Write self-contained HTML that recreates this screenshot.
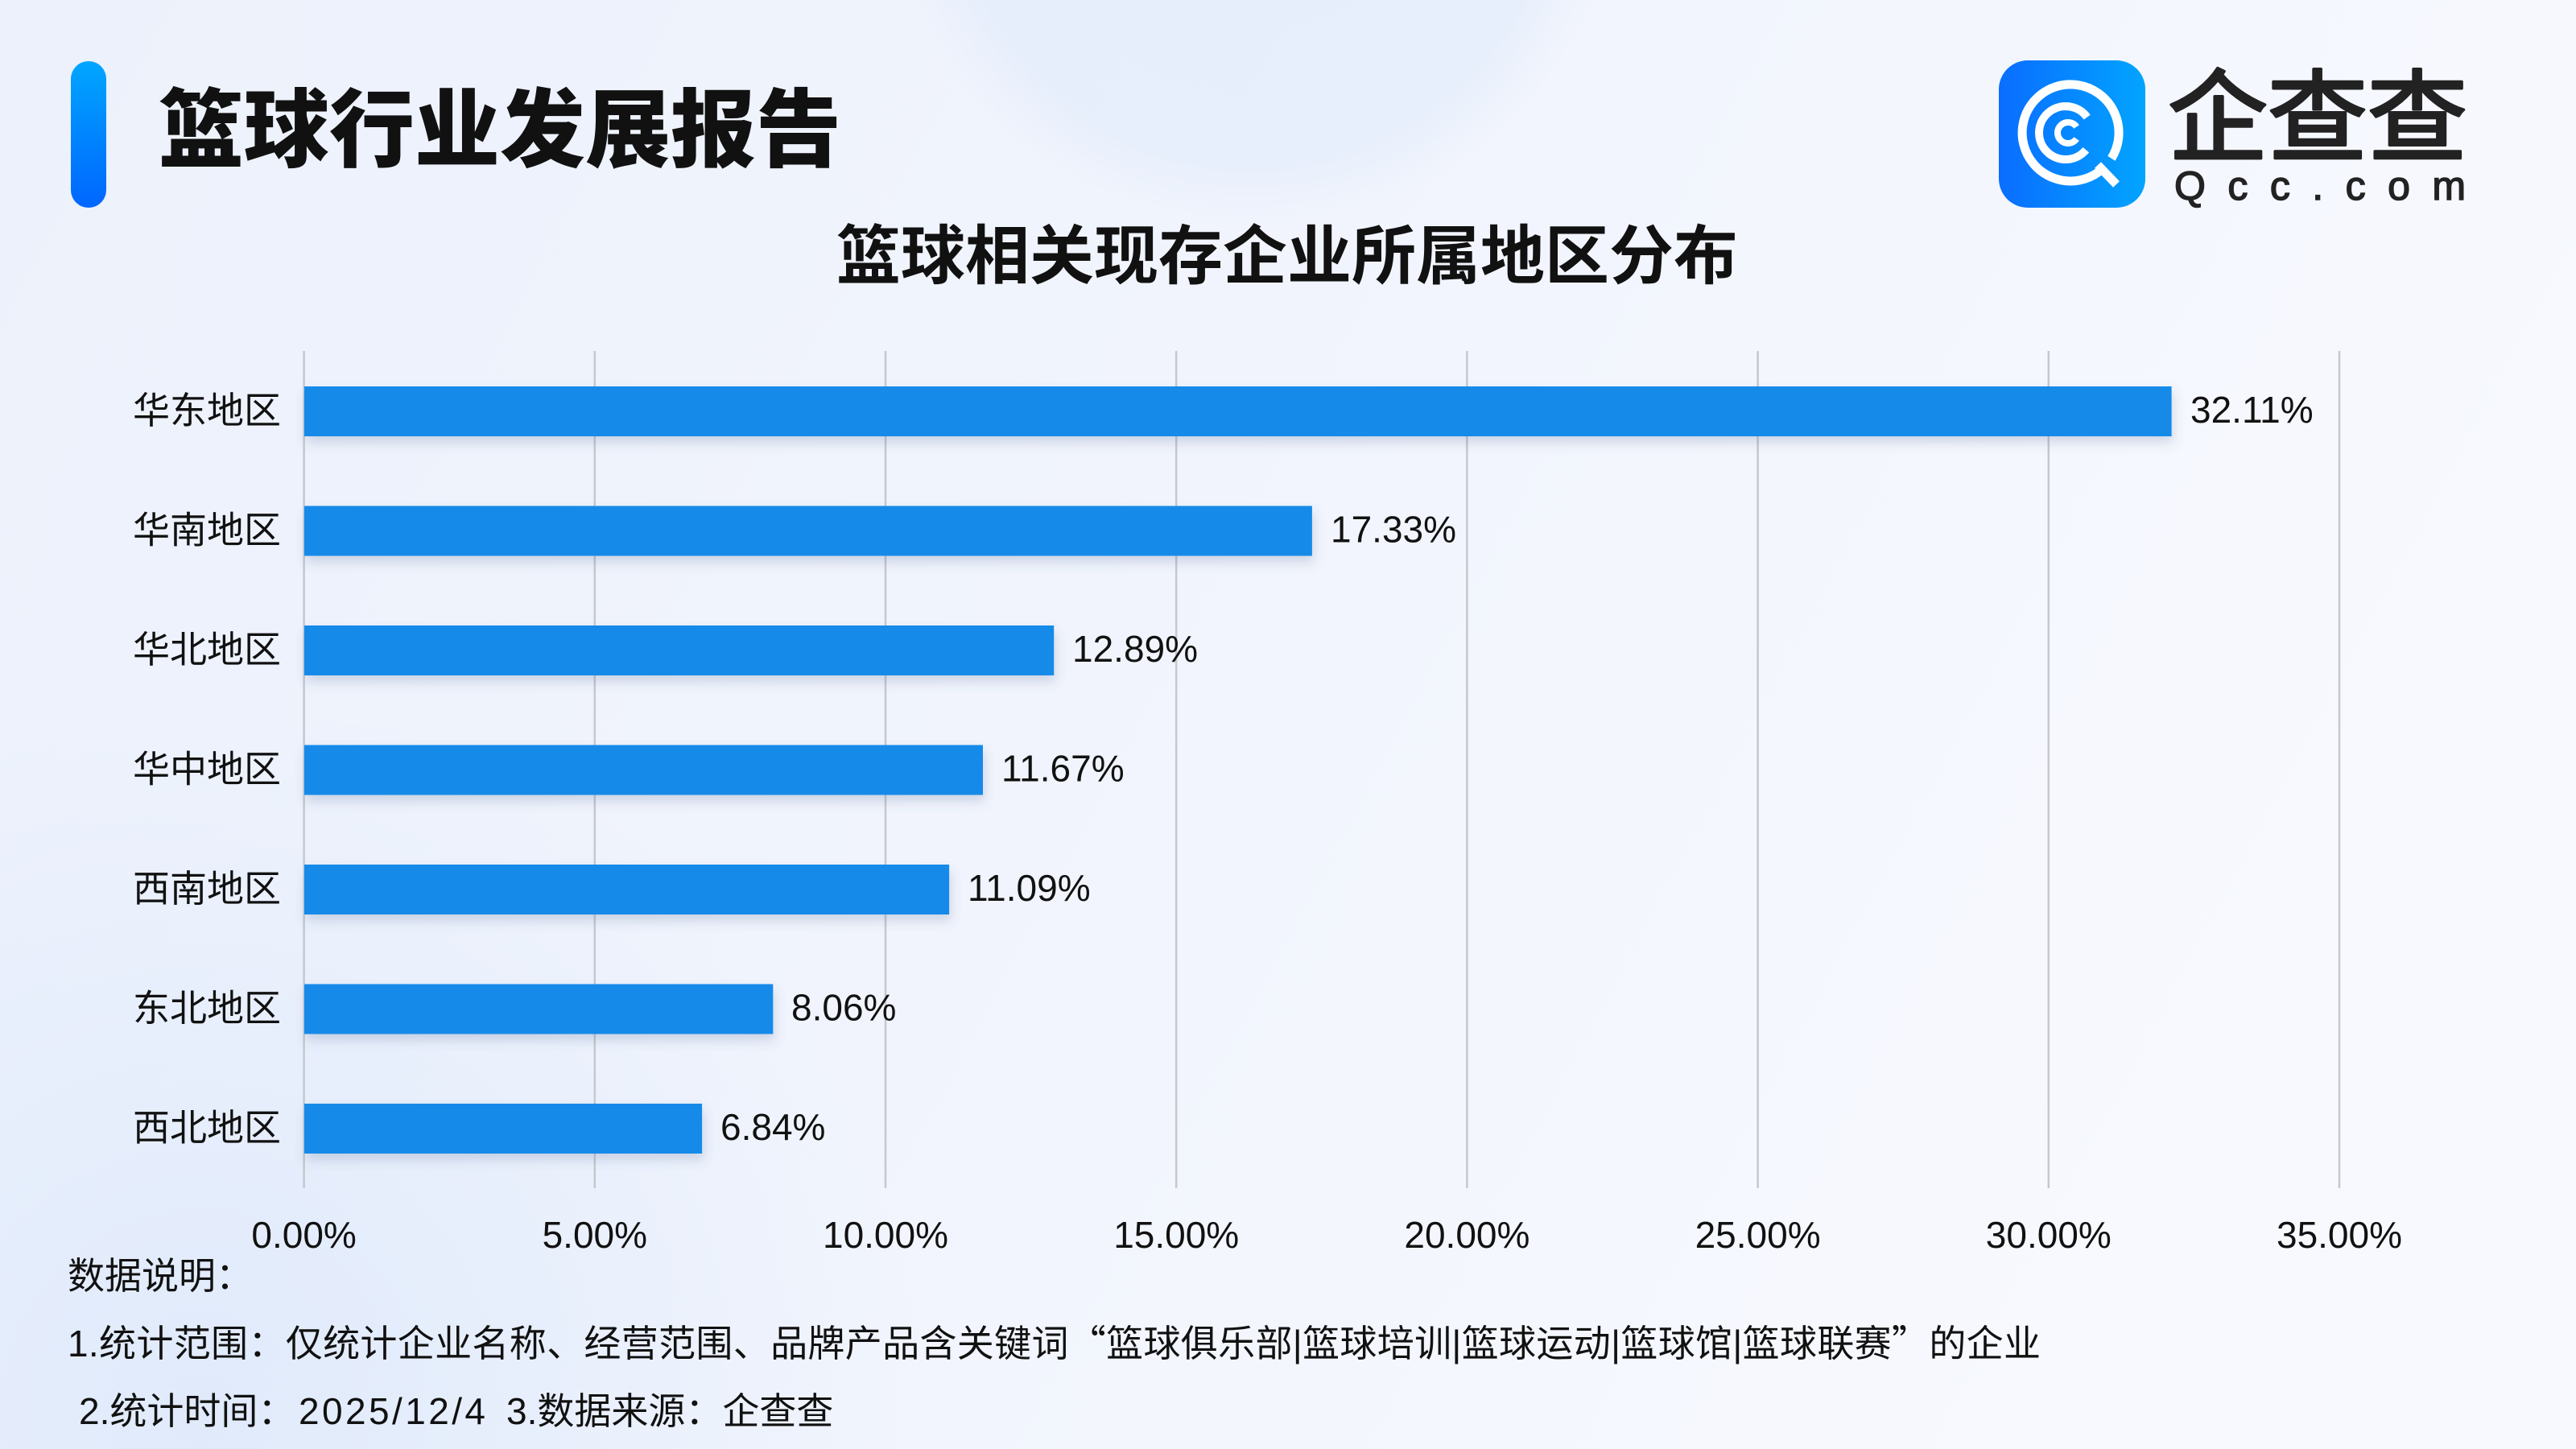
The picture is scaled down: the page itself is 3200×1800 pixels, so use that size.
<!DOCTYPE html>
<html><head><meta charset="utf-8"><style>
html,body{margin:0;padding:0;width:3200px;height:1800px;overflow:hidden;background:#f1f5fd}
svg{display:block;overflow:hidden}
text{font-family:"Liberation Sans","Noto Sans CJK SC",sans-serif;fill:#111}
.cjk{font-family:"Noto Sans CJK SC","Liberation Sans",sans-serif}
</style></head><body>
<svg width="3200" height="1800" viewBox="0 0 3200 1800" xmlns="http://www.w3.org/2000/svg">
<defs>
<linearGradient id="bg" x1="0" y1="0" x2="1" y2="0.3">
<stop offset="0" stop-color="#ecf1fb"/><stop offset="0.6" stop-color="#f2f5fd"/><stop offset="1" stop-color="#f7f9fe"/>
</linearGradient>
<radialGradient id="bl" gradientUnits="userSpaceOnUse" cx="250" cy="1750" r="900">
<stop offset="0" stop-color="#dce8fb" stop-opacity="0.8"/><stop offset="1" stop-color="#dce8fb" stop-opacity="0"/>
</radialGradient>
<radialGradient id="tc" gradientUnits="userSpaceOnUse" cx="1555" cy="-180" r="460">
<stop offset="0" stop-color="#e3ecfb" stop-opacity="0.8"/><stop offset="0.82" stop-color="#e3ecfb" stop-opacity="0.7"/><stop offset="1" stop-color="#e3ecfb" stop-opacity="0"/>
</radialGradient>
<linearGradient id="tbar" x1="0" y1="0" x2="0" y2="1">
<stop offset="0" stop-color="#00a6ff"/><stop offset="1" stop-color="#0066ff"/>
</linearGradient>
<linearGradient id="logo" x1="0" y1="0" x2="1" y2="0">
<stop offset="0" stop-color="#0a6dff"/><stop offset="1" stop-color="#02a4ff"/>
</linearGradient>
<filter id="sh" x="-5%" y="-40%" width="110%" height="200%"><feDropShadow dx="2" dy="8" stdDeviation="7" flood-color="#4a6490" flood-opacity="0.22"/></filter>
</defs>
<rect width="3200" height="1800" fill="url(#bg)"/>
<rect x="1000" y="0" width="1100" height="300" fill="url(#tc)"/>
<rect x="0" y="900" width="1200" height="900" fill="url(#bl)"/>

<!-- header -->
<rect x="88" y="76" width="44" height="182" rx="22" fill="url(#tbar)"/>
<text x="197" y="199" font-size="106" font-weight="900" fill="#000">篮球行业发展报告</text>

<!-- logo -->
<rect x="2483" y="75" width="182" height="183" rx="36" fill="url(#logo)"/>
<g fill="none" stroke="#fff" stroke-linecap="butt">
<path d="M2608.1 212.9 A60 60 0 1 1 2622.9 196.8" stroke-width="11"/>
<path d="M2606 205 L2629 229" stroke-width="11"/>
<path d="M2591.3 186.2 A33 33 0 1 1 2592.7 145.6" stroke-width="10"/>
<path d="M2579.6 172.5 A13 13 0 1 1 2579.6 157.5" stroke-width="8"/>
</g>
<text x="2693" y="190" font-size="124" font-weight="400" class="cjk" style="fill:#222" stroke="#222" stroke-width="3.5" stroke-linejoin="round" stroke-linecap="round">企查查</text>
<text x="2701" y="248" font-size="50" font-weight="400" textLength="362" lengthAdjust="spacing" style="fill:#222" stroke="#222" stroke-width="1.5">Qcc.com</text>

<!-- subtitle -->
<text x="1599" y="346" font-size="80" font-weight="700" text-anchor="middle">篮球相关现存企业所属地区分布</text>

<!-- grid -->
<g stroke="#c6c8cd" stroke-width="2.5">
<line x1="377.6" y1="436" x2="377.6" y2="1476"/>
<line x1="738.8" y1="436" x2="738.8" y2="1476"/>
<line x1="1100" y1="436" x2="1100" y2="1476"/>
<line x1="1461.2" y1="436" x2="1461.2" y2="1476"/>
<line x1="1822.4" y1="436" x2="1822.4" y2="1476"/>
<line x1="2183.6" y1="436" x2="2183.6" y2="1476"/>
<line x1="2544.8" y1="436" x2="2544.8" y2="1476"/>
<line x1="2906" y1="436" x2="2906" y2="1476"/>
</g>

<!-- bars -->
<g fill="#168ae9" filter="url(#sh)">
<rect x="378" y="480" width="2319.6" height="62"/>
<rect x="378" y="628.5" width="1251.9" height="62"/>
<rect x="378" y="777" width="931.2" height="62"/>
<rect x="378" y="925.5" width="843" height="62"/>
<rect x="378" y="1074" width="801.1" height="62"/>
<rect x="378" y="1222.5" width="582.3" height="62"/>
<rect x="378" y="1371" width="494.1" height="62"/>
</g>

<!-- category labels -->
<g font-size="46" text-anchor="end">
<text x="349" y="526">华东地区</text>
<text x="349" y="674.5">华南地区</text>
<text x="349" y="823">华北地区</text>
<text x="349" y="971.5">华中地区</text>
<text x="349" y="1120">西南地区</text>
<text x="349" y="1268.5">东北地区</text>
<text x="349" y="1417">西北地区</text>
</g>

<!-- value labels -->
<g font-size="46">
<text x="2721" y="525">32.11%</text>
<text x="1653" y="673.5">17.33%</text>
<text x="1332" y="822">12.89%</text>
<text x="1244" y="970.5">11.67%</text>
<text x="1202" y="1119">11.09%</text>
<text x="983" y="1267.5">8.06%</text>
<text x="895" y="1416">6.84%</text>
</g>

<!-- ticks -->
<g font-size="46" text-anchor="middle">
<text x="377.6" y="1550">0.00%</text>
<text x="738.8" y="1550">5.00%</text>
<text x="1100" y="1550">10.00%</text>
<text x="1461.2" y="1550">15.00%</text>
<text x="1822.4" y="1550">20.00%</text>
<text x="2183.6" y="1550">25.00%</text>
<text x="2544.8" y="1550">30.00%</text>
<text x="2906" y="1550">35.00%</text>
</g>

<!-- notes -->
<g font-size="46">
<text x="84" y="1601">数据说明：</text>
<text x="84" y="1685" textLength="2451" lengthAdjust="spacing">1.统计范围：仅统计企业名称、经营范围、品牌产品含关键词<tspan class="cjk">“</tspan>篮球俱乐部|篮球培训|篮球运动|篮球馆|篮球联赛<tspan class="cjk">”</tspan>的企业</text>
<text x="98" y="1769">2.统计时间：</text>
<text x="371" y="1769" textLength="232" lengthAdjust="spacing">2025/12/4</text>
<text x="629" y="1769">3.数据来源：企查查</text>
</g>
</svg>
</body></html>
